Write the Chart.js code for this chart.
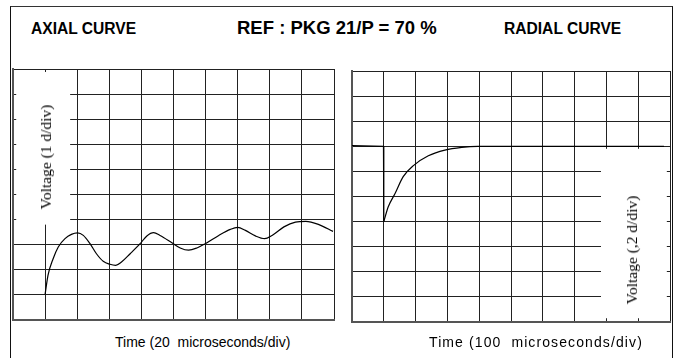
<!DOCTYPE html>
<html>
<head>
<meta charset="utf-8">
<script src="https://cdn.jsdelivr.net/npm/chart.js@4.4.0/dist/chart.umd.min.js"></script>
<style>
  html, body { margin: 0; padding: 0; background: #fff; }
  #stage { position: relative; width: 684px; height: 358px; overflow: hidden; background: #fff; }
  .frame { position: absolute; left: 10px; top: 6px; width: 663px; height: 360px;
           border-left: 1.5px solid #111; border-top: 1.5px solid #333; border-right: 1.5px solid #111; box-sizing: border-box; }
  canvas { position: absolute; }
  .t { position: absolute; white-space: nowrap; font-family: "Liberation Sans", Arial, sans-serif; color: #000; }
  .b { font-weight: bold; }
  .v { position: absolute; white-space: nowrap; font-family: "Liberation Serif", "Times New Roman", serif;
       font-size: 15.5px; line-height: 16px; color: #000; transform: translate(-50%, -50%) rotate(-90deg); }
</style>
</head>
<body>
<div id="stage">
  <div class="frame"></div>
  <canvas id="axial" width="341" height="271" style="left:3px; top:59px;"></canvas>
  <canvas id="radial" width="338" height="271" style="left:342px; top:61px;"></canvas>
  <div class="t b" style="left:31px; top:21px; font-size:15.6px; line-height:15.6px;">AXIAL CURVE</div>
  <div class="t b" style="left:237px; top:18.5px; font-size:18.5px; line-height:18.5px;">REF : PKG 21/P = 70 %</div>
  <div class="t b" style="left:504px; top:21px; font-size:15.6px; line-height:15.6px;">RADIAL CURVE</div>
  <div class="t" style="left:115px; top:335px; font-size:14px; line-height:14px;">Time (20&nbsp; microseconds/div)</div>
  <div class="t" style="left:429px; top:335px; font-size:14px; line-height:14px; letter-spacing:1.1px;">Time (100&nbsp; microseconds/div)</div>
  <div class="v" style="left:45.5px; top:156.5px;">Voltage (1 d/div)</div>
  <div class="v" style="left:632px; top:250px;">Voltage (,2 d/div)</div>
</div>
<script>
// Graticule: 10 x 10 divisions
const divisions = 10;

// AXIAL CURVE (20 microseconds/div, 1 d/div)
const axialTime    = [1.0, 1.09, 1.25, 1.41, 1.62, 1.82, 2.01, 2.19, 2.40, 2.60, 2.81, 3.02, 3.20, 3.38, 3.65, 3.96,
                      4.17, 4.38, 4.58, 4.95, 5.21, 5.47, 5.73, 5.99, 6.41, 6.77, 7.0, 7.24, 7.55, 7.84, 8.07, 8.44,
                      8.80, 9.12, 9.53, 9.97];
const axialVoltage = [1.02, 1.78, 2.44, 2.91, 3.24, 3.41, 3.47, 3.37, 3.04, 2.64, 2.34, 2.22, 2.18, 2.31, 2.64, 3.04,
                      3.35, 3.48, 3.37, 3.08, 2.87, 2.78, 2.87, 3.04, 3.37, 3.61, 3.69, 3.57, 3.35, 3.24, 3.37, 3.71,
                      3.90, 3.93, 3.80, 3.53];

// RADIAL CURVE (100 microseconds/div, ,2 d/div)
const radialStepTime        = [0.0, 0.99, 1.0];
const radialStepVoltage     = [7.03, 7.0, 4.0];
const radialRecoveryTime    = [1.0, 1.14, 1.35, 1.61, 1.93, 2.40, 2.92, 3.45, 3.96, 9.81];
const radialRecoveryVoltage = [4.0, 4.59, 5.11, 5.79, 6.23, 6.62, 6.85, 6.96, 7.0, 7.0];

const toXY = (xs, ys) => xs.map((x, i) => ({ x: x, y: ys[i] }));

// White label panel that hides part of the graticule (as in the original scan)
const maskPlugin = {
  id: 'mask',
  beforeDatasetsDraw(chart, args, opts) {
    if (!opts || opts.x0 === undefined) return;
    const xs = chart.scales.x, ys = chart.scales.y, ctx = chart.ctx;
    const l = xs.getPixelForValue(opts.x0), r = xs.getPixelForValue(opts.x1);
    const t = ys.getPixelForValue(opts.y1), b = ys.getPixelForValue(opts.y0);
    ctx.save();
    ctx.fillStyle = '#fff';
    ctx.fillRect(l, t, r - l, b - t);
    ctx.restore();
  }
};

function scopeOptions(mask) {
  const axis = {
    type: 'linear', min: 0, max: divisions,
    ticks: { display: false, stepSize: 1 },
    grid: { color: '#222', lineWidth: 1, drawTicks: false },
    border: { display: true, color: '#555', width: 2 }
  };
  return {
    responsive: false, animation: false, devicePixelRatio: 1,
    layout: { padding: 10 },
    plugins: { legend: { display: false }, tooltip: { enabled: false }, title: { display: false }, mask: mask },
    scales: { x: JSON.parse(JSON.stringify(axis)), y: JSON.parse(JSON.stringify(axis)) },
    elements: { point: { radius: 0 } }
  };
}

new Chart(document.getElementById('axial'), {
  type: 'line',
  data: { datasets: [{
    data: toXY(axialTime, axialVoltage),
    borderColor: '#000', borderWidth: 1.2, fill: false, cubicInterpolationMode: 'monotone'
  }]},
  options: scopeOptions({ x0: 0.1, x1: 1.78, y0: 3.8, y1: 9.88 }),
  plugins: [maskPlugin]
});

new Chart(document.getElementById('radial'), {
  type: 'line',
  data: { datasets: [
    { data: toXY(radialStepTime, radialStepVoltage), borderColor: '#000', borderWidth: 1.2, fill: false, tension: 0 },
    { data: toXY(radialRecoveryTime, radialRecoveryVoltage), borderColor: '#000', borderWidth: 1.2, fill: false, cubicInterpolationMode: 'monotone' }
  ]},
  options: scopeOptions({ x0: 7.83, x1: 9.9, y0: 0.15, y1: 6.9 }),
  plugins: [maskPlugin]
});
</script>
</body>
</html>
